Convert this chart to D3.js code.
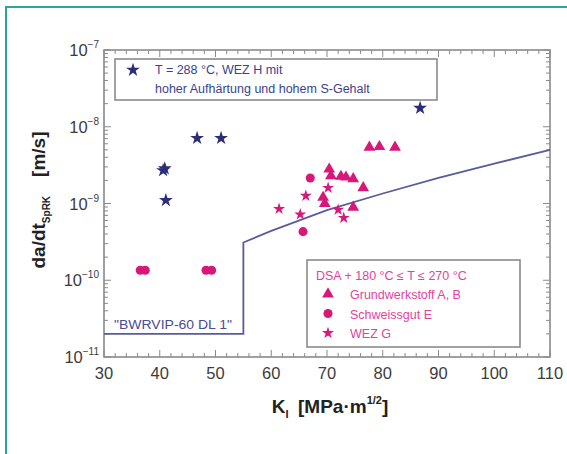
<!DOCTYPE html>
<html>
<head>
<meta charset="utf-8">
<script src="https://cdn.jsdelivr.net/npm/d3@7"></script>
<style>
  html, body { margin: 0; padding: 0; background: #fff; }
  svg { display: block; font-family: "Liberation Sans", Arial, sans-serif; }
</style>
</head>
<body>
<svg id="chart" width="567" height="454"></svg>
<script>
// Crack growth rate da/dt versus stress intensity K_I
const xTicks = [30, 40, 50, 60, 70, 80, 90, 100, 110];
const yDecades = [-11, -10, -9, -8, -7];

// T = 288 °C, WEZ H (high hardening, high sulphur)
const wezH = [[40.6, 2.7e-9], [40.9, 2.85e-9], [41.1, 1.1e-9], [46.7, 7.1e-9], [51.0, 7.1e-9], [86.7, 1.75e-8]];
// DSA, Grundwerkstoff A, B
const grundwerkstoff = [[77.6, 5.4e-9], [79.4, 5.5e-9], [82.2, 5.4e-9], [70.4, 2.8e-9], [70.7, 2.3e-9],
  [72.5, 2.25e-9], [73.4, 2.2e-9], [74.7, 2.1e-9], [76.5, 1.6e-9], [69.3, 1.2e-9], [69.6, 1.0e-9], [74.7, 8.9e-10]];
// DSA, Schweissgut E
const schweissgut = [[36.5, 1.35e-10], [37.4, 1.35e-10], [48.3, 1.35e-10], [49.3, 1.35e-10], [67.0, 2.15e-9], [65.7, 4.3e-10]];
// DSA, WEZ G
const wezG = [[61.4, 8.5e-10], [65.2, 7.2e-10], [66.2, 1.26e-9], [70.2, 1.6e-9], [72.0, 8.3e-10], [73.0, 6.5e-10]];
// "BWRVIP-60 DL 1" disposition line
const bwrvip = [[30, 2e-11], [55, 2e-11], [55, 3.1e-10], [60, 4.4e-10], [70, 8.2e-10], [80, 1.35e-9],
  [90, 2.15e-9], [100, 3.3e-9], [110, 5e-9]];

const svg = d3.select("#chart");
const m = { left: 104, right: 550, top: 50, bottom: 357 };

const x = d3.scaleLinear().domain([30, 110]).range([m.left, m.right]);
const y = d3.scaleLog().domain([1e-11, 1e-7]).range([m.bottom, m.top]);

const pink = "#d8177a", navy = "#2b2d78", frameCol = "#8a8a8a", textCol = "#3c3c3c";

// outer teal frame (top and left edges)
svg.append("path").attr("d", "M6,454 L6,7 L567,7")
  .attr("fill", "none").attr("stroke", "#2aa596").attr("stroke-width", 2);

// plot box
svg.append("rect").attr("x", m.left).attr("y", m.top)
  .attr("width", m.right - m.left).attr("height", m.bottom - m.top)
  .attr("fill", "none").attr("stroke", frameCol).attr("stroke-width", 1.6);

// x ticks (inward, mirrored on top)
const xMinor = d3.range(30, 110.01, 2);
const gx = svg.append("g").attr("stroke", frameCol).attr("stroke-width", 1);
xMinor.forEach(v => {
  const major = v % 10 === 0;
  const len = major ? 7 : 4;
  gx.append("line").attr("x1", x(v)).attr("x2", x(v)).attr("y1", m.bottom).attr("y2", m.bottom - len);
  gx.append("line").attr("x1", x(v)).attr("x2", x(v)).attr("y1", m.top).attr("y2", m.top + len);
});
svg.append("g").selectAll("text").data(xTicks).join("text")
  .attr("x", d => x(d)).attr("y", m.bottom + 22)
  .attr("text-anchor", "middle").attr("font-size", 16.5).attr("fill", textCol)
  .text(d => d);

// y ticks (log minor ticks, mirrored on the right)
const gy = svg.append("g").attr("stroke", frameCol).attr("stroke-width", 1);
yDecades.forEach(dec => {
  const mults = dec === -7 ? [1] : [1, 2, 3, 4, 5, 6, 7, 8, 9];
  mults.forEach(k => {
    const v = k * Math.pow(10, dec);
    const len = k === 1 ? 7 : 4;
    gy.append("line").attr("x1", m.left).attr("x2", m.left + len).attr("y1", y(v)).attr("y2", y(v));
    gy.append("line").attr("x1", m.right).attr("x2", m.right - len).attr("y1", y(v)).attr("y2", y(v));
  });
});
const yl = svg.append("g").selectAll("text").data(yDecades).join("text")
  .attr("x", m.left - 5).attr("y", d => y(Math.pow(10, d)) + 6)
  .attr("text-anchor", "end").attr("font-size", 16.5).attr("fill", textCol);
yl.append("tspan").text("10");
yl.append("tspan").attr("dy", -8).attr("font-size", 10).text(d => "\u2212" + Math.abs(d));

// axis titles
const xt = svg.append("text").attr("x", 330).attr("y", 413).attr("text-anchor", "middle")
  .attr("font-size", 19).attr("font-weight", "bold").attr("fill", "#222");
xt.append("tspan").text("K");
xt.append("tspan").attr("dy", 5).attr("font-size", 11).text("I");
xt.append("tspan").attr("dy", -5).text("\u2002[MPa\u00b7m");
xt.append("tspan").attr("dy", -9).attr("font-size", 11).text("1/2");
xt.append("tspan").attr("dy", 9).text("]");

const yt = svg.append("text").attr("transform", "translate(45,200) rotate(-90)")
  .attr("text-anchor", "middle").attr("font-size", 19).attr("font-weight", "bold").attr("fill", "#222");
yt.append("tspan").text("da/dt");
yt.append("tspan").attr("dy", 5).attr("font-size", 10).text("SpRK");
yt.append("tspan").attr("dy", -5).text("\u2002\u2002[m/s]");

// disposition line
const line = d3.line().x(d => x(d[0])).y(d => y(d[1]));
svg.append("path").datum(bwrvip).attr("d", line)
  .attr("fill", "none").attr("stroke", "#5a5c9a").attr("stroke-width", 1.8);
svg.append("text").attr("x", 114).attr("y", 329).attr("font-size", 12).attr("fill", "#4a4c96")
  .attr("textLength", 118).attr("lengthAdjust", "spacingAndGlyphs").text("\"BWRVIP-60 DL 1\"");

// markers
const star = d3.symbol().type(d3.symbolStar);
const tri = d3.symbol().type(d3.symbolTriangle);
const circ = d3.symbol().type(d3.symbolCircle);

function plot(data, gen, size, color) {
  svg.append("g").selectAll("path").data(data).join("path")
    .attr("transform", d => `translate(${x(d[0])},${y(d[1])})`)
    .attr("d", gen.size(size)()).attr("fill", color);
}
plot(wezH, star, 60, navy);
plot(schweissgut, circ, 65, pink);
plot(grundwerkstoff, tri, 60, pink);
plot(wezG, star, 45, pink);

// legend: WEZ H
svg.append("rect").attr("x", 115).attr("y", 59).attr("width", 322).attr("height", 41)
  .attr("fill", "#fff").attr("stroke", frameCol).attr("stroke-width", 1.6);
svg.append("path").attr("transform", "translate(133,70)").attr("d", star.size(60)()).attr("fill", navy);
const l1 = svg.append("text").attr("font-size", 12.5).attr("fill", "#3d3f8c");
l1.append("tspan").attr("x", 155).attr("y", 74).text("T = 288 \u00b0C,  WEZ H mit");
l1.append("tspan").attr("x", 155).attr("y", 93).text("hoher Aufh\u00e4rtung und hohem S-Gehalt");

// legend: DSA
svg.append("rect").attr("x", 307).attr("y", 260).attr("width", 213).attr("height", 87)
  .attr("fill", "#fff").attr("stroke", frameCol).attr("stroke-width", 1.6);
const lpink = "#e0449c";
svg.append("text").attr("x", 316).attr("y", 280).attr("font-size", 12.5).attr("fill", lpink)
  .text("DSA + 180 \u00b0C \u2264 T \u2264 270 \u00b0C");
const legItems = [
  { gen: tri, size: 60, label: "Grundwerkstoff A, B" },
  { gen: circ, size: 65, label: "Schweissgut E" },
  { gen: star, size: 45, label: "WEZ G" }
];
legItems.forEach((it, i) => {
  const cy = 294 + i * 19.5;
  svg.append("path").attr("transform", `translate(328,${cy})`).attr("d", it.gen.size(it.size)()).attr("fill", pink);
  svg.append("text").attr("x", 350).attr("y", cy + 5).attr("font-size", 12.5).attr("fill", lpink).text(it.label);
});
</script>
</body>
</html>
